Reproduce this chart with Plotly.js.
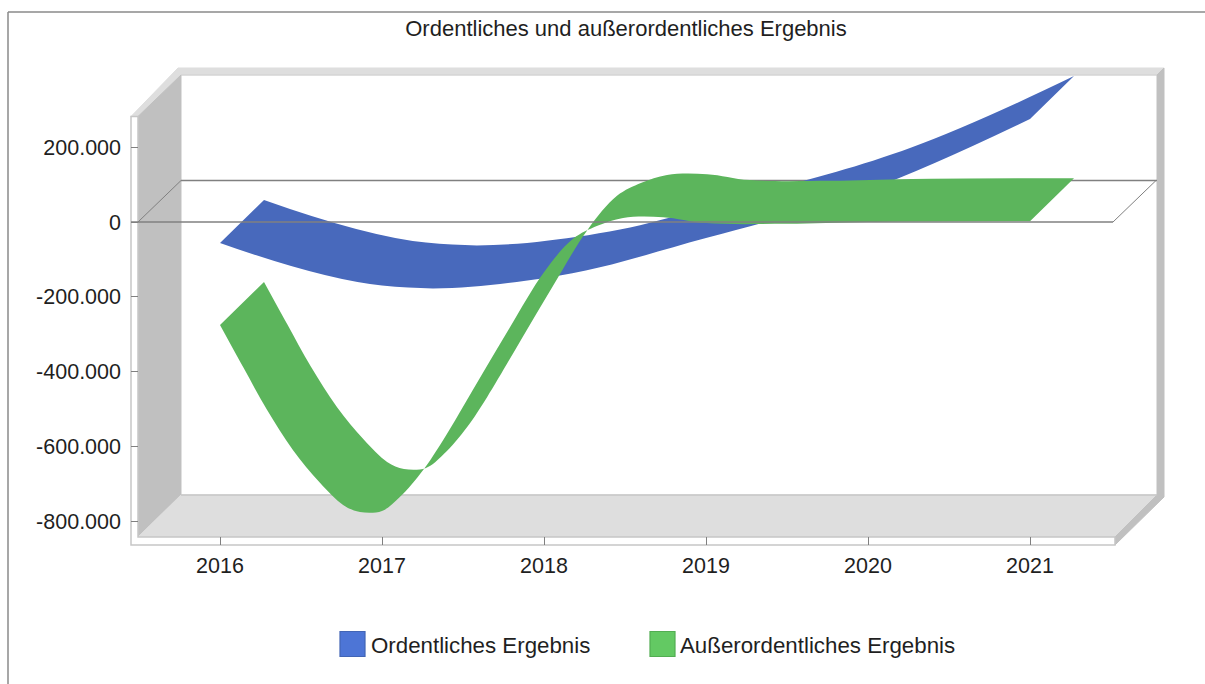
<!DOCTYPE html>
<html><head><meta charset="utf-8">
<script src="https://cdn.plot.ly/plotly-3.0.1.min.js"></script>
<style>html,body{margin:0;padding:0;background:#fff;overflow:hidden}</style>
</head><body><div id="chart" style="width:1205px;height:684px"></div>
<script>
const chartTitle = "Ordentliches und außerordentliches Ergebnis";
const years = [2016, 2017, 2018, 2019, 2020, 2021];
const ordentlich = [-56000, -170000, -150000, -43000, 85000, 275000];
// Front edge of the green ribbon at the yearly ticks and between them
const ausserordentlichX = [2016, 2016.142, 2016.29, 2016.45, 2016.617, 2016.76, 2016.864, 2017, 2017.11, 2017.253, 2017.377, 2017.586, 2017.79, 2018, 2018.179, 2018.33, 2018.488, 2018.735, 2019, 2019.5, 2020, 2021];
const ausserordentlich = [-275000, -387000, -502000, -609000, -697000, -756000, -775000, -772000, -735000, -663000, -583000, -430000, -281000, -134000, -45000, -10000, 11000, 13000, -3000, -5000, 0, 2000];
const seriesNames = ["Ordentliches Ergebnis", "Außerordentliches Ergebnis"];
const yTickVals = [200000, 0, -200000, -400000, -600000, -800000];
const yTickText = ["200.000", "0", "-200.000", "-400.000", "-600.000", "-800.000"];

const W = 1205, H = 684, L = 131, R = 1170, T = 60, B = 545;
const pxPerYear = 162, pxPerUnit = 74.85 / 200000, x2016 = 220, yZero = 222;
const depthX = 44 / pxPerYear, depthY = 43 / pxPerUnit;
const xRange = [2016 + (L - x2016) / pxPerYear, 2016 + (R - x2016) / pxPerYear];
const yRange = [(yZero - B) / pxPerUnit, (yZero - T) / pxPerUnit];
const FONT = "Liberation Sans, Arial, sans-serif", INK = "#1f1f1f";
const BLUE = "#4869BC", GREEN = "#5CB55C";

function ribbon(xs, vals, color, name, smooth) {
  const shared = {mode: "lines", hoverinfo: "skip", showlegend: false, name: name};
  const line = {shape: "spline", smoothing: smooth, width: 0, color: color};
  return [
    Object.assign({}, shared, {x: xs, y: vals, line: line}),
    Object.assign({}, shared, {x: xs.map(v => v + depthX), y: vals.map(v => v + depthY),
      line: line, fill: "tonexty", fillcolor: color})
  ];
}
const fx = x => (x - L) / (R - L), fy = y => (B - y) / (B - T);
function poly(pts, fill, line, width, layer) {
  return {type: "path", xref: "paper", yref: "paper", layer: layer || "below",
    path: "M" + pts.map(p => fx(p[0]).toFixed(5) + "," + fy(p[1]).toFixed(5)).join("L") + "Z",
    fillcolor: fill, line: {color: line || fill, width: width === undefined ? 1 : width}};
}
function seg(x0, y0, x1, y1, color, width, layer) {
  return {type: "line", xref: "paper", yref: "paper", layer: layer || "below",
    x0: fx(x0), y0: fy(y0), x1: fx(x1), y1: fy(y1), line: {color: color, width: width}};
}
const FRAME = "#c6c6c6", WALL = "#c0c0c0", FLOOR = "#dedede", ZERO = "#808080";
const shapes = [
  seg(8, 12, 1205, 12, "#8a8a8a", 1.5),
  seg(8, 12, 8, 684, "#8a8a8a", 1.5),
  poly([[131,116.5],[138,116.5],[181,75],[1157,75],[1164,68],[178,68]], FLOOR, FLOOR, 1),
  poly([[138,116.5],[181,75],[181,495],[138,537]], WALL),
  poly([[138,537],[181,495],[1157,495],[1115,537]], FLOOR),
  poly([[1157,75],[1164,68],[1164,497],[1157,495]], WALL),
  poly([[1157,495],[1164,497],[1115,545],[1115,537]], WALL),
  poly([[131,116.5],[138,116.5],[138,537],[1115,537],[1115,545],[131,545]], "#ffffff", FRAME, 1.5),
  seg(181, 495, 1157, 495, FRAME, 1.5),
  seg(181, 75, 1157, 75, "#d0d0d0", 1),
  seg(181, 180.5, 1157, 180.5, ZERO, 1.3),
  seg(138, 222, 181, 180.5, ZERO, 1),
  seg(1113, 222, 1156, 180.5, ZERO, 1),
  seg(131, 222, 1113, 222, ZERO, 1.3, "above"),
  poly([[340,631.5],[365,631.5],[365,656.5],[340,656.5]], "#4D75D6", "#4265B5", 1.2, "above"),
  poly([[650,631.5],[675,631.5],[675,656.5],[650,656.5]], "#63C963", "#52AD52", 1.2, "above")
];
const legendText = (x, text) => ({xref: "paper", yref: "paper", x: fx(x), y: fy(645.5), xanchor: "left",
  yanchor: "middle", showarrow: false, text: text, font: {family: FONT, size: 22.3, color: INK}});

const data = [...ribbon(years, ordentlich, BLUE, seriesNames[0], 1.1),
              ...ribbon(ausserordentlichX, ausserordentlich, GREEN, seriesNames[1], 1)];
const layout = {
  width: W, height: H, autosize: false, showlegend: false,
  margin: {l: L, r: W - R, t: T, b: H - B, pad: 0},
  paper_bgcolor: "#ffffff", plot_bgcolor: "rgba(0,0,0,0)",
  title: {text: chartTitle, x: 626 / W, xanchor: "center", y: 1 - 28 / H, yanchor: "middle",
          font: {family: FONT, size: 22, color: INK}},
  xaxis: {range: xRange, tickvals: years, ticktext: years.map(String), ticks: "inside", ticklen: 8,
          tickcolor: "#808080", showgrid: false, zeroline: false, showline: false, fixedrange: true,
          ticklabelstandoff: 5, tickfont: {family: FONT, size: 21.5, color: INK}},
  yaxis: {range: yRange, tickvals: yTickVals, ticktext: yTickText, ticks: "inside", ticklen: 7,
          tickcolor: "#808080", showgrid: false, zeroline: false, showline: false, fixedrange: true,
          ticklabelstandoff: 9, tickfont: {family: FONT, size: 21.5, color: INK}},
  shapes: shapes,
  annotations: [legendText(369, seriesNames[0]), legendText(678, seriesNames[1])]
};
Plotly.newPlot("chart", data, layout, {displayModeBar: false, staticPlot: true});
</script></body></html>
